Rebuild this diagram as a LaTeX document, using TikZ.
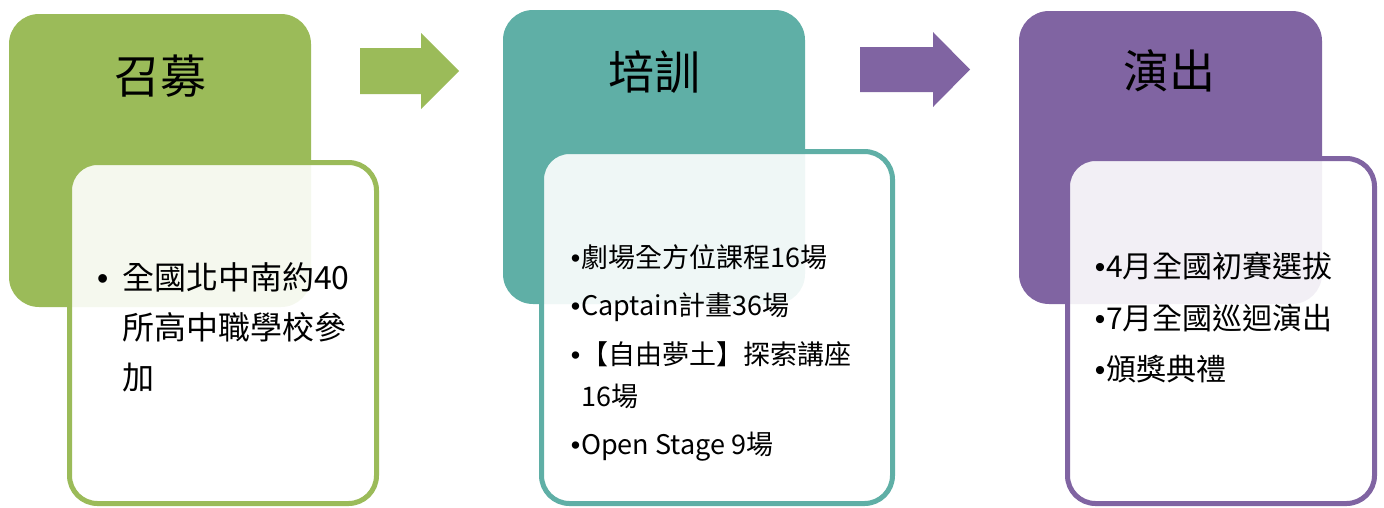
\documentclass[tikz,border=0pt]{standalone}
\usepackage{fontspec}
\newfontfamily\cjk{Noto Sans CJK TC}
\newfontfamily\bulletfont{Liberation Sans}
\newcommand{\bul}{{\bulletfont •}}
\definecolor{cgreen}{HTML}{9BBB59}
\definecolor{cteal}{HTML}{5FAFA6}
\definecolor{cpurple}{HTML}{8064A2}
\begin{document}
\begin{tikzpicture}[x=1pt,y=-1pt,
  topbox/.style={rectangle, rounded corners=30pt, inner sep=0pt, fill=#1, draw=none},
  lowbox/.style={rectangle, rounded corners=28pt, line width=5pt, draw=#1, fill=white, fill opacity=0.9, draw opacity=1, inner sep=0pt},
  title/.style={font=\cjk\fontsize{46}{52}\selectfont, text=black, inner sep=0pt},
  bodytext/.style={align=left, anchor=north west, inner sep=0pt, text=black},
  blockarrow/.style={fill=#1, draw=none}]
\useasboundingbox (0,0) rectangle (1384,507);

% column 1
\node[topbox=cgreen, minimum width=302pt, minimum height=293pt] (top1) at (160,160.5) {};
\node[lowbox=cgreen, minimum width=307pt, minimum height=341pt] (low1) at (223,333) {};
\node[title] (t1) at (160,76) {召募};
\node[bodytext, font=\cjk\fontsize{32}{50}\selectfont] (b1) at (97,262)
  {\makebox[25pt][l]{\bul}全國北中南約40\\\hspace*{25pt}所高中職學校參\\\hspace*{25pt}加};

% column 2
\node[topbox=cteal, minimum width=302pt, minimum height=294pt] (top2) at (654,157) {};
\node[lowbox=cteal, minimum width=351pt, minimum height=352pt] (low2) at (717,327.5) {};
\node[title] (t2) at (654,72) {培訓};
\node[bodytext, font=\cjk\fontsize{27}{42}\selectfont] (b2) at (570,244)
  {\makebox[11pt][c]{\bul}劇場全方位課程16場\\[6.5pt]
   \makebox[11pt][c]{\bul}Captain計畫36場\\[6.5pt]
   \makebox[11pt][c]{\bul}【自由夢土】探索講座\\
   \hspace*{11pt}16場\\[6.5pt]
   \makebox[11pt][c]{\bul}Open Stage 9場};

% column 3
\node[topbox=cpurple, minimum width=303pt, minimum height=293pt] (top3) at (1170.5,157.5) {};
\node[lowbox=cpurple, minimum width=307pt, minimum height=345pt] (low3) at (1221,331) {};
\node[title] (t3) at (1169,71) {演出};
\node[bodytext, font=\cjk\fontsize{30}{51.5}\selectfont] (b3) at (1094,252)
  {\makebox[12pt][c]{\bul}4月全國初賽選拔\\
   \makebox[12pt][c]{\bul}7月全國巡迴演出\\
   \makebox[12pt][c]{\bul}頒獎典禮};

% block arrows
\fill[blockarrow=cgreen] (360,48) -- (421,48) -- (421,33) -- (459,71) -- (421,109) -- (421,94) -- (360,94) -- cycle;
\fill[blockarrow=cpurple] (860,47) -- (933,47) -- (933,32) -- (970,69.5) -- (933,107) -- (933,92) -- (860,92) -- cycle;
\end{tikzpicture}
\end{document}
